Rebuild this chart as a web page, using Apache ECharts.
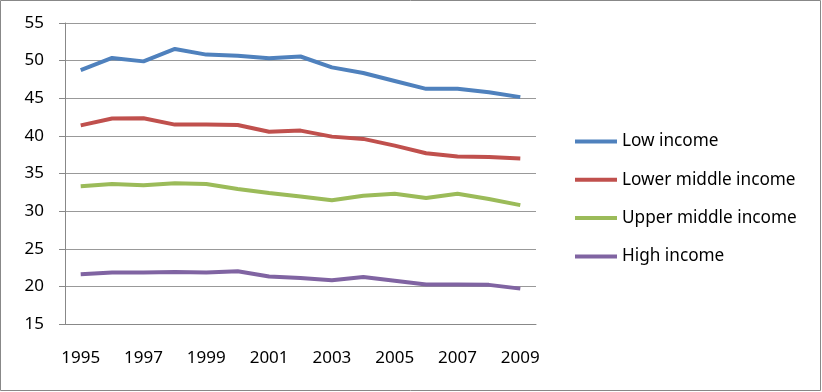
<!DOCTYPE html>
<html><head><meta charset="utf-8">
<script src="https://cdn.jsdelivr.net/npm/echarts@6/dist/echarts.min.js"></script>
<style>html,body{margin:0;padding:0;background:#fff}#c{width:822px;height:392px}</style>
</head><body><div id="c"></div>
<script>
const years = ['1995','1996','1997','1998','1999','2000','2001','2002','2003','2004','2005','2006','2007','2008','2009'];
const lowIncome = [48.75,50.35,49.9,51.55,50.8,50.65,50.3,50.55,49.1,48.35,47.3,46.25,46.25,45.8,45.15];
const lowerMiddle = [41.4,42.3,42.35,41.5,41.5,41.45,40.55,40.7,39.9,39.6,38.7,37.7,37.25,37.2,37.0];
const upperMiddle = [33.3,33.6,33.45,33.7,33.6,32.95,32.4,31.95,31.45,32.05,32.3,31.75,32.3,31.6,30.8];
const highIncome = [21.6,21.85,21.85,21.9,21.85,22.0,21.3,21.1,20.8,21.25,20.75,20.25,20.25,20.2,19.7];
const seriesNames = ['Low income','Lower middle income','Upper middle income','High income'];
const colors = ['#4F81BD','#C0504D','#9BBB59','#8064A2'];
const allData = [lowIncome, lowerMiddle, upperMiddle, highIncome];

const chart = echarts.init(document.getElementById('c'), null, {renderer:'canvas'});
const font = 'Noto Sans';
chart.setOption({
  animation:false,
  backgroundColor:'#fff',
  color: colors,
  graphic:[{type:'rect',shape:{x:0.5,y:0.5,width:820,height:390},style:{fill:'none',stroke:'#888',lineWidth:1},silent:true,z:-1}],
  grid:{left:65,right:286,top:23,bottom:68},
  legend:{
    orient:'vertical', left:570, top:128, itemWidth:42, itemHeight:4, itemGap:21.3,
    icon:'rect',
    textStyle:{fontFamily:font,fontSize:17.2,color:'#000'},
    data: seriesNames
  },
  xAxis:{
    type:'category', data:years, boundaryGap:true,
    axisLine:{lineStyle:{color:'#888',width:1}},
    axisTick:{show:false},
    axisLabel:{interval:1,fontFamily:font,fontSize:17,color:'#000',margin:26}
  },
  yAxis:{
    type:'value', min:15, max:55, interval:5,
    axisLine:{show:true,lineStyle:{color:'#888',width:1}},
    axisTick:{show:true,length:6,lineStyle:{color:'#888'}},
    splitLine:{lineStyle:{color:'#999',width:1}},
    axisLabel:{fontFamily:font,fontSize:17,color:'#000',margin:21}
  },
  series: allData.map((d,i)=>({
    name:seriesNames[i], type:'line', data:d, symbol:'none',
    lineStyle:{width:4,color:colors[i]}, itemStyle:{color:colors[i]}
  }))
});
</script></body></html>
